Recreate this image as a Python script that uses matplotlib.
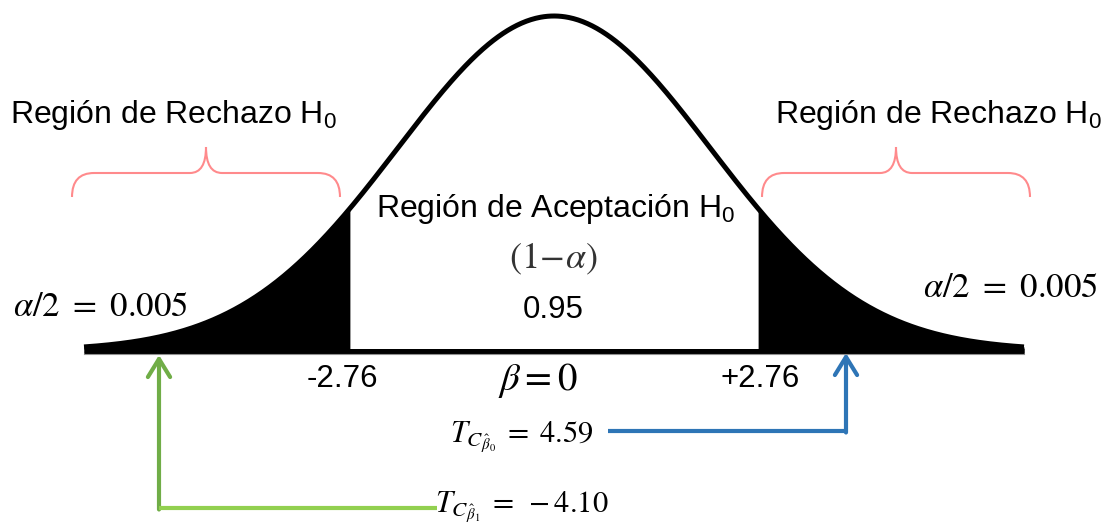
import numpy as np
import matplotlib
matplotlib.use("Agg")
import matplotlib.pyplot as plt
from matplotlib.path import Path
from matplotlib.patches import PathPatch, FancyArrowPatch, ArrowStyle

plt.rcParams['font.family'] = 'Liberation Sans'
plt.rcParams['mathtext.fontset'] = 'custom'
plt.rcParams['mathtext.rm'] = 'Liberation Sans'
plt.rcParams['mathtext.it'] = 'Liberation Sans:italic'

### values shown on the chart
crit_vals = [-2.76, 2.76]          # critical t values
t_stats = [4.59, -4.10]            # T_C for beta0, beta1
alpha_half = 0.005
conf_level = 0.95
curve_half_range = 6.39            # how far the drawn bell goes each side (t units)
curve_sigma = 2.12                 # width of the drawn bell (t units)

### layout (pixels of the 1104x531 picture)
X0, PX_PER_T = 554, 73.55          # centre of the bell, scale of t axis
BASE_Y, PEAK_H = 350.5, 334.5      # baseline row and bell height


def tx(t):
    return X0 + PX_PER_T * np.asarray(t)


def hy(h):
    return BASE_Y - PEAK_H * np.asarray(h)


fig = plt.figure(figsize=(11.04, 5.31), dpi=100)
ax = fig.add_axes([0, 0, 1, 1])
ax.set_xlim(0, 1104)
ax.set_ylim(531, 0)
ax.axis('off')

t = np.linspace(-curve_half_range, curve_half_range, 800)
h = np.exp(-t ** 2 / (2 * curve_sigma ** 2))

# black tails (rejection regions)
left = t <= crit_vals[0]
right = t >= crit_vals[1]
ax.fill_between(tx(t[left]), hy(h[left]), BASE_Y + 2.5, color='black', lw=0)
ax.fill_between(tx(t[right]), hy(h[right]), BASE_Y + 2.5, color='black', lw=0)

# bell and baseline
ax.plot(tx(t), hy(h), color='black', lw=3.6, solid_capstyle='butt')
ax.plot([tx(t[0]), tx(t[-1])], [BASE_Y, BASE_Y], color='black', lw=3.6, solid_capstyle='butt')
ax.plot([tx(t[0]), tx(t[-1])], [BASE_Y + 3.5, BASE_Y + 3.5], color='#909090', lw=0.8)


# braces over the rejection regions
def brace(x_left, x_right, y_end=197, y_mid=173, y_tip=147, color='#FF8A8C'):
    xm = (x_left + x_right) / 2
    r = 22
    verts = [(x_left, y_end), (x_left, y_mid), (x_left + r, y_mid),
             (xm - 16, y_mid),
             (xm, y_mid), (xm, y_tip),
             (xm, y_mid), (xm + 16, y_mid),
             (x_right - r, y_mid),
             (x_right, y_mid), (x_right, y_end)]
    codes = [Path.MOVETO, Path.CURVE3, Path.CURVE3,
             Path.LINETO,
             Path.CURVE3, Path.CURVE3,
             Path.CURVE3, Path.CURVE3,
             Path.LINETO,
             Path.CURVE3, Path.CURVE3]
    ax.add_patch(PathPatch(Path(verts, codes), fill=False, edgecolor=color, lw=1.5))


brace(72, 340)
brace(762, 1030)

# texts
ax.text(10, 123, 'Región de Rechazo H$_0$', fontsize=23, ha='left', va='baseline')
ax.text(775, 123, 'Región de Rechazo H$_0$', fontsize=23, ha='left', va='baseline')
ax.text(556, 217, 'Región de Aceptación H$_0$', fontsize=23, ha='center', va='baseline')
ax.text(553, 259, r'$(1\!-\!\alpha)$', fontsize=26, ha='center', va='center',
        math_fontfamily='stix', color='#333333')
ax.text(553, 318, f'{conf_level:.2f}', fontsize=22.5, ha='center', va='baseline')
ax.text(tx(crit_vals[0]) - 9, 387, f'{crit_vals[0]:.2f}', fontsize=22.5, ha='center', va='baseline')
ax.text(tx(crit_vals[1]) + 3, 387, f'+{crit_vals[1]:.2f}', fontsize=22.5, ha='center', va='baseline')
ax.text(538, 381, r'$\beta = 0$', fontsize=28, ha='center', va='center', math_fontfamily='stix')

ax.text(13, 316, rf'$\alpha/2\ =\ {alpha_half}$', fontsize=25, ha='left', va='baseline',
        math_fontfamily='stix')
ax.text(923, 297, rf'$\alpha/2\ =\ {alpha_half}$', fontsize=25, ha='left', va='baseline',
        math_fontfamily='stix')
ax.text(450, 443, rf'$T_{{C_{{\hat{{\beta}}_0}}}}\;=\;{t_stats[0]:.2f}$', fontsize=22,
        ha='left', va='baseline', math_fontfamily='stix')
ax.text(435, 513, rf'$T_{{C_{{\hat{{\beta}}_1}}}}\;=\;{t_stats[1]:.2f}$', fontsize=22,
        ha='left', va='baseline', math_fontfamily='stix')

# arrows from the test statistics to the tails
head = ArrowStyle('->', head_length=13, head_width=8)

# beta1 (green)
ax.plot([159, 437], [508, 508], color='#92D050', lw=3, solid_capstyle='butt')
ax.add_patch(FancyArrowPatch((159, 509.5), (159, 355), arrowstyle=head, mutation_scale=1,
                             color='#70AD47', lw=3, shrinkA=0, shrinkB=0))

# beta0 (blue)
ax.plot([608, 847], [431, 431], color='#2E75B6', lw=3, solid_capstyle='butt')
ax.add_patch(FancyArrowPatch((846, 432.5), (846, 353), arrowstyle=head, mutation_scale=1,
                             color='#2E75B6', lw=3, shrinkA=0, shrinkB=0))

fig.savefig('out.png', dpi=100)
